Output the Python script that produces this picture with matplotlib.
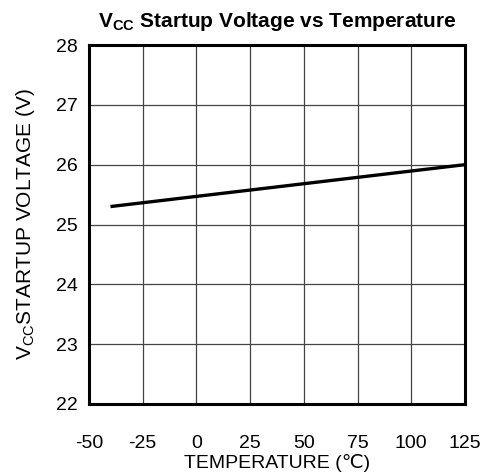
import matplotlib
matplotlib.use('Agg')
import matplotlib.pyplot as plt

plt.rcParams['font.family'] = ['Liberation Sans', 'DejaVu Sans']
plt.rcParams['mathtext.fontset'] = 'custom'
plt.rcParams['mathtext.rm'] = 'Liberation Sans'
plt.rcParams['mathtext.bf'] = 'Liberation Sans:bold'
plt.rcParams['axes.unicode_minus'] = False

# data
temp = [-40, 125]
vcc_start = [25.3, 26.0]
xticks = [-50, -25, 0, 25, 50, 75, 100, 125]
yticks = [22, 23, 24, 25, 26, 27, 28]

fig = plt.figure(figsize=(4.84, 4.76), dpi=100)
ax = fig.add_axes([89 / 484, 1 - 404 / 476, 376 / 484, 359 / 476])

ax.plot(temp, vcc_start, color='black', linewidth=2.4, solid_capstyle='butt')

ax.set_xlim(-50, 125)
ax.set_ylim(22, 28)
ax.set_xticks(xticks)
ax.set_yticks(yticks)
ax.grid(True, color='#444444', linewidth=0.9)
ax.set_axisbelow(True)
for s in ax.spines.values():
    s.set_linewidth(2.2)
    s.set_color('black')
ax.tick_params(axis='both', length=0, labelsize=14)
ax.tick_params(axis='x', pad=22)
ax.tick_params(axis='y', pad=8)

ax.set_xlabel('TEMPERATURE (\u2103)', fontsize=14, labelpad=2)
ax.set_ylabel('V$_{\\mathrm{CC}}$STARTUP VOLTAGE (V)', fontsize=15, labelpad=14)
ax.set_title('$\\mathbf{V_{CC}}$ Startup Voltage vs Temperature',
             fontsize=15, fontweight='bold', pad=13)

fig.savefig('out.png', dpi=100)
